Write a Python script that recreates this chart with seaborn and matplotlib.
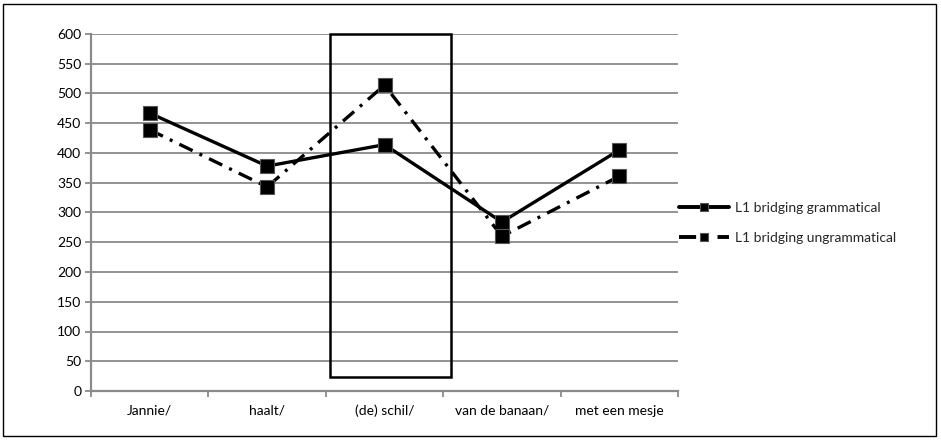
import matplotlib
matplotlib.use("Agg")
import matplotlib.pyplot as plt
import matplotlib.patches as mpatches
import seaborn as sns
import pandas as pd

categories = ["Jannie/", "haalt/", "(de) schil/", "van de banaan/", "met een mesje"]
grammatical = [467, 378, 414, 284, 405]
ungrammatical = [439, 343, 514, 260, 361]
series_names = ["L1 bridging grammatical", "L1 bridging ungrammatical"]
y_ticks = list(range(0, 601, 50))

sns.set_theme(style="white")
plt.rcParams["font.family"] = ["Lato", "DejaVu Sans"]

fig = plt.figure(figsize=(9.41, 4.41), dpi=100)
ax = fig.add_axes([91 / 941, 50 / 441, 587 / 941, 357 / 441])

df_g = pd.DataFrame({"cat": categories, "val": grammatical})
df_u = pd.DataFrame({"cat": categories, "val": ungrammatical})

sns.lineplot(data=df_g, x="cat", y="val", ax=ax, color="black", linewidth=2.4,
             marker="s", markersize=9.5, markerfacecolor="black",
             markeredgecolor="#555555", markeredgewidth=0.8,
             label=series_names[0], sort=False)
sns.lineplot(data=df_u, x="cat", y="val", ax=ax, color="black", linewidth=2.4,
             marker="s", markersize=9.5, markerfacecolor="black",
             markeredgecolor="#555555", markeredgewidth=0.8,
             label=series_names[1], sort=False)
ax.lines[1].set_dashes((4.4, 2.3, 0.9, 2.3))

ax.set_xlim(-0.5, len(categories) - 0.5)
ax.set_ylim(0, 600)
ax.set_yticks(y_ticks)
ax.set_xlabel("")
ax.set_ylabel("")

ax.yaxis.grid(True, color="#8a8a8a", linewidth=1.3)
ax.xaxis.grid(False)
ax.set_axisbelow(True)
for s in ["top", "right"]:
    ax.spines[s].set_visible(False)
for s in ["left", "bottom"]:
    ax.spines[s].set_color("#8a8a8a")
    ax.spines[s].set_linewidth(1.6)

fs = 10
ax.tick_params(axis="y", left=True, length=4, width=1.3, color="#8a8a8a",
               labelsize=fs, pad=3, labelcolor="black")
ax.tick_params(axis="x", which="major", bottom=False, length=0, labelsize=fs,
               pad=10, labelcolor="black")
ax.set_xticks([i - 0.5 for i in range(len(categories) + 1)], minor=True)
ax.tick_params(axis="x", which="minor", bottom=True, length=4, width=1.3,
               color="#8a8a8a")

# highlight rectangle around "(de) schil/"
rect = mpatches.Rectangle((1.535, 23), 1.03, 577, fill=False, edgecolor="black",
                          linewidth=1.8, clip_on=False, zorder=1)
ax.add_patch(rect)

leg = ax.legend(loc="center left", bbox_to_anchor=(679 / 941, 0.495),
                bbox_transform=fig.transFigure, frameon=False, fontsize=fs,
                handlelength=3.6, handletextpad=0.4, labelspacing=1.3,
                borderpad=0, borderaxespad=0)
for h in leg.legend_handles:
    h.set_markersize(5.5)
    h.set_linewidth(2.8)

border = mpatches.Rectangle((3 / 941, 5 / 441), 933 / 941, 432 / 441,
                            transform=fig.transFigure, fill=False,
                            edgecolor="black", linewidth=1.0)
fig.patches.append(border)

fig.savefig("out.png", dpi=100)
